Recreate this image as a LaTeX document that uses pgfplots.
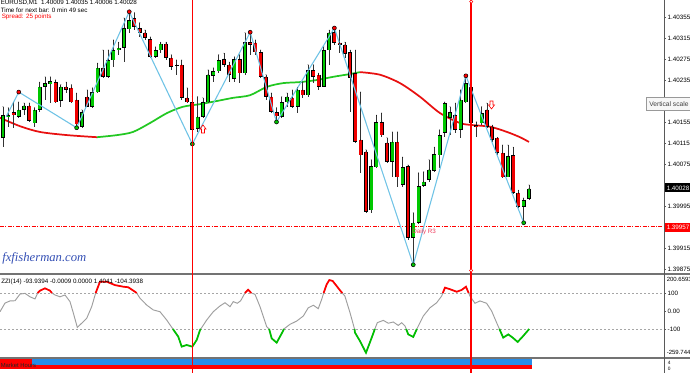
\documentclass[border=0pt]{standalone}
\usepackage{pgfplots}
\pgfplotsset{compat=1.18}
\usepackage{pgfplotstable}
\usepackage{fontspec}
\setmainfont{Liberation Sans}
\newfontfamily\serifit{Liberation Serif}
\newcommand\lab{\fontsize{4.7}{5.2}\selectfont}

\definecolor{candG}{HTML}{00C800}
\definecolor{candR}{HTML}{F00000}
\definecolor{zzblue}{HTML}{6EC3E6}
\definecolor{maG}{HTML}{22C822}
\definecolor{maR}{HTML}{E81010}
\definecolor{fxblue}{HTML}{3550B5}
\definecolor{r3pink}{HTML}{F04060}
\definecolor{vred}{HTML}{FF0000}

\pgfplotsset{nomark/.style={only marks, mark=*, mark options={draw=none, fill=none, scale=0.01}}}

% bullish candles: i open high low close
\pgfplotstableread{
i o h l c
0 1.40125 1.40184 1.40107 1.40168
1 1.40165 1.40182 1.40146 1.40168
3 1.40165 1.40193 1.40163 1.40178
4 1.40178 1.40191 1.40168 1.40186
6 1.40153 1.40182 1.40146 1.40178
7 1.40178 1.40231 1.40174 1.40222
8 1.40222 1.40241 1.40197 1.40229
9 1.40227 1.40241 1.40191 1.40233
11 1.40195 1.40226 1.40184 1.40222
15 1.40146 1.40178 1.40144 1.40174
17 1.40184 1.40220 1.40182 1.40212
18 1.40212 1.40267 1.40210 1.40258
20 1.40241 1.40292 1.40239 1.40273
21 1.40273 1.40311 1.40260 1.40292
22 1.40292 1.40307 1.40283 1.40296
23 1.40296 1.40353 1.40269 1.40334
24 1.40332 1.40363 1.40325 1.40349
29 1.40279 1.40298 1.40277 1.40292
30 1.40292 1.40307 1.40286 1.40304
37 1.40142 1.40203 1.40136 1.40165
38 1.40165 1.40201 1.40163 1.40193
39 1.40193 1.40254 1.40191 1.40245
40 1.40243 1.40258 1.40231 1.40252
41 1.40252 1.40283 1.40248 1.40273
44 1.40237 1.40279 1.40231 1.40275
46 1.40248 1.40325 1.40245 1.40307
53 1.40165 1.40203 1.40163 1.40193
54 1.40193 1.40210 1.40184 1.40203
56 1.40184 1.40220 1.40172 1.40216
58 1.40206 1.40264 1.40203 1.40254
61 1.40222 1.40298 1.40222 1.40292
62 1.40292 1.40330 1.40264 1.40325
70 1.39987 1.40083 1.39982 1.40071
71 1.40069 1.40168 1.40067 1.40155
74 1.40079 1.40136 1.40050 1.40117
76 1.40035 1.40088 1.40031 1.40069
78 1.39934 1.39982 1.39883 1.39963
79 1.39963 1.40058 1.39961 1.40033
80 1.40033 1.40060 1.40031 1.40041
81 1.40045 1.40083 1.40041 1.40064
82 1.40062 1.40107 1.40060 1.40094
83 1.40092 1.40140 1.40067 1.40130
84 1.40134 1.40193 1.40126 1.40191
85 1.40163 1.40184 1.40130 1.40174
87 1.40140 1.40216 1.40125 1.40197
88 1.40193 1.40241 1.40191 1.40229
91 1.40153 1.40184 1.40149 1.40172
96 1.40050 1.40111 1.40050 1.40090
99 1.39993 1.40010 1.39965 1.40006
100 1.40009 1.40035 1.40006 1.40028
}\bull

% bearish candles: i open high low close
\pgfplotstableread{
i o h l c
2 1.40174 1.40191 1.40144 1.40168
5 1.40186 1.40191 1.40155 1.40157
10 1.40231 1.40235 1.40191 1.40193
12 1.40222 1.40231 1.40210 1.40216
13 1.40220 1.40226 1.40191 1.40193
14 1.40197 1.40210 1.40144 1.40151
16 1.40203 1.40216 1.40184 1.40184
19 1.40258 1.40292 1.40239 1.40241
25 1.40353 1.40363 1.40330 1.40336
26 1.40334 1.40344 1.40317 1.40325
27 1.40325 1.40330 1.40311 1.40315
28 1.40313 1.40317 1.40277 1.40279
31 1.40304 1.40307 1.40273 1.40277
32 1.40277 1.40283 1.40254 1.40260
33 1.40264 1.40273 1.40245 1.40262
34 1.40264 1.40273 1.40197 1.40201
35 1.40201 1.40220 1.40191 1.40193
36 1.40193 1.40203 1.40117 1.40140
42 1.40275 1.40286 1.40260 1.40264
43 1.40264 1.40269 1.40231 1.40245
45 1.40275 1.40283 1.40229 1.40248
47 1.40307 1.40325 1.40283 1.40302
48 1.40306 1.40311 1.40283 1.40288
49 1.40288 1.40292 1.40239 1.40241
50 1.40241 1.40245 1.40197 1.40203
51 1.40203 1.40210 1.40172 1.40174
52 1.40174 1.40182 1.40159 1.40166
55 1.40201 1.40216 1.40182 1.40184
57 1.40216 1.40231 1.40201 1.40206
59 1.40254 1.40264 1.40229 1.40241
60 1.40245 1.40248 1.40216 1.40222
63 1.40326 1.40336 1.40302 1.40306
64 1.40306 1.40330 1.40286 1.40302
65 1.40302 1.40307 1.40277 1.40285
66 1.40288 1.40292 1.40174 1.40239
67 1.40248 1.40292 1.40115 1.40117
68 1.40121 1.40212 1.40058 1.40092
69 1.40098 1.40102 1.39982 1.39984
72 1.40155 1.40172 1.40126 1.40130
73 1.40115 1.40125 1.40077 1.40079
75 1.40117 1.40136 1.40031 1.40050
77 1.40071 1.40073 1.39930 1.39934
86 1.40168 1.40191 1.40134 1.40140
89 1.40222 1.40226 1.40126 1.40153
90 1.40149 1.40155 1.40126 1.40146
92 1.40178 1.40191 1.40144 1.40146
93 1.40146 1.40149 1.40117 1.40121
94 1.40125 1.40125 1.40092 1.40096
95 1.40096 1.40111 1.40048 1.40050
97 1.40092 1.40107 1.40018 1.40020
98 1.40020 1.40025 1.39991 1.39993
}\bear

% oscillator (ZZI 14)
\pgfplotstableread{
i v
-0.57 -4
0.38 44
1.33 56
2.28 57
3.23 94
4.18 98
5.13 79
6.08 67
6.6 100
7.03 113
7.98 126
8.94 113
9.3 100
9.89 89
10.84 79
11.79 89
12.74 52
13.37 -11
14.13 -91
14.96 -68
15.91 -41
16.86 24
17.62 100
18.44 163
19.71 163
21.29 144
22.87 135
23.82 132
25.10 107
25.4 100
26.05 71
27.32 33
28.57 6
29.85 -4
31.12 -50
32.3 -100
33.33 -143
33.97 -198
34.92 -189
35.99 -198
36.83 -161
37.45 -106
37.6 -100
38.73 -50
39.98 -4
41.25 28
42.21 46
43.16 24
43.78 52
44.54 43
45.19 57
46.0 100
46.6 118
47.2 100
47.91 93
48.86 24
50.13 -87
50.6 -100
51.08 -152
52.03 -176
53.17 -115
53.4 -100
54.56 -74
55.83 -56
57.09 -28
58.04 18
59.0 32
59.94 13
60.59 65
60.97 100
61.03 106
61.54 148
62.04 172
62.67 167
63.43 139
64.07 115
64.5 100
65.0 83
65.97 -9
66.83 -100
66.92 -120
67.87 -167
69.01 -232
70.1 -148
70.7 -100
71.16 -65
72.3 -52
73.26 -68
74.2 -61
75.15 -80
75.8 -65
76.43 -83
76.65 -100
77.05 -130
78.0 -144
78.65 -102
78.68 -100
79.9 -28
81.18 18
82.45 46
83.4 83
83.62 100
84.03 130
84.98 121
86.26 107
87.2 117
88.02 135
88.53 100
88.78 83
89.73 43
90.68 56
91.94 43
92.9 0
93.85 -65
94.38 -100
95.1 -148
96.07 -130
96.9 -148
97.85 -172
98.9 -139
100.04 -100
}\osc

\newcommand\wicks[1]{%
  \addplot[nomark, forget plot, error bars/.cd, y dir=minus, y explicit,
    error mark=none, error bar style={draw=black!80, line width=0.55pt, solid}]
    table[x=i, y=h, y error minus expr={\thisrow{h}-\thisrow{l}}] {#1};}
\newcommand\bodies[4]{%
  \addplot[nomark, forget plot, error bars/.cd, y dir=minus, y explicit,
    error mark=none, error bar style={draw=black, line width=3.0pt, solid}]
    table[x=i, y=#2, y error minus expr={max(\thisrow{#2}-\thisrow{#3},0.000012)}] {#1};
  \addplot[nomark, forget plot, error bars/.cd, y dir=minus, y explicit,
    error mark=none, error bar style={draw=#4, line width=2.0pt, solid}]
    table[x=i, y expr={\thisrow{#2}-0.000010}, y error minus expr={max(\thisrow{#2}-\thisrow{#3}-0.000020,0)}] {#1};}

\begin{document}
\begin{tikzpicture}
\clip (0,0) rectangle (517.5pt,-279.75pt);
\fill[white] (0,0) rectangle (517.5pt,-279.75pt);

% ---------------- main price panel ----------------
\begin{axis}[
  at={(0pt,-204pt)}, anchor=south west, scale only axis,
  width=498pt, height=204pt,
  xmin=-0.570, xmax=125.67, ymin=1.398692, ymax=1.403874,
  axis x line=none, axis y line*=right,
  axis line style={-, draw=black!65, line width=0.75pt},
  ytick={1.39875,1.39915,1.39995,1.40075,1.40115,1.40155,1.40235,1.40275,1.40315,1.40355},
  yticklabels={1.39875,1.39915,1.39995,1.40075,1.40115,1.40155,1.40235,1.40275,1.40315,1.40355},
  yticklabel style={font=\lab, inner sep=0pt, xshift=1pt},
  major tick length=1.6pt, tick align=outside, tick style={black!65, line width=0.5pt},
]
% Daily R3 level
\addplot[vred, line width=0.75pt, dash pattern=on 3pt off 1.1pt on 0.75pt off 1.1pt] coordinates {(-0.57,1.39955) (125.67,1.39955)};
% moving average
\addplot[maR, line width=1.3pt, smooth] coordinates {(-0.57,1.40163) (3.23,1.40147) (7.03,1.40136) (12.17,1.40130) (17.87,1.40126)};
\addplot[maG, line width=1.3pt, smooth] coordinates {(17.87,1.40126) (21.67,1.40130) (24.71,1.40136) (27.95,1.40153) (31.18,1.40172) (34.22,1.40184) (37.45,1.40189) (40.68,1.40195) (43.73,1.40201) (46.96,1.40206) (50.19,1.40222) (53.23,1.40229) (56.46,1.40231) (59.70,1.40235) (62.74,1.40241) (65.78,1.40246) (67.87,1.40250)};
\addplot[maR, line width=1.3pt, smooth] coordinates {(67.87,1.40250) (71.67,1.40245) (75.48,1.40229) (79.28,1.40203) (83.08,1.40172) (86.88,1.40153) (89.35,1.40149) (92.59,1.40146) (95.82,1.40136) (98.29,1.40126) (100,1.40117)};
% candles
\wicks{\bull}
\wicks{\bear}
\bodies{\bull}{c}{o}{candG}
\bodies{\bear}{o}{c}{candR}
% zigzag
\addplot[zzblue, line width=0.8pt] coordinates {(0.6,1.40165) (3,1.40212) (14,1.40144) (24,1.40365) (36,1.40113) (47,1.40326) (52,1.40155) (63,1.40334) (78,1.39883) (88,1.40243) (99,1.39963)};
\addplot[only marks, mark=*, mark size=1.5pt, mark options={draw=none, fill=red}] coordinates {(3,1.40212) (24,1.40365) (47,1.40326) (63,1.40334) (88,1.40243)};
\addplot[only marks, mark=*, mark size=1.5pt, mark options={draw=none, fill=green!75!black}] coordinates {(14,1.40144) (36,1.40113) (52,1.40155) (78,1.39883) (99,1.39963)};
\end{axis}

% ---------------- oscillator panel ----------------
\begin{axis}[
  at={(0pt,-268.3125pt)}, anchor=south west, scale only axis,
  width=498pt, height=62.14pt,
  xmin=-0.570, xmax=125.67, ymin=-259.744, ymax=200.659,
  axis x line=none, axis y line*=right,
  axis line style={-, draw=black!65, line width=0.75pt},
  ytick={-100,0,100}, yticklabels={-100,0.00,100},
  yticklabel style={font=\lab, inner sep=0pt, xshift=1pt},
  major tick length=1.6pt, tick align=outside, tick style={black!65, line width=0.5pt},
]
\addplot[black!35, line width=0.4pt, dash pattern=on 1.5pt off 1.5pt] coordinates {(-0.57,100) (125.67,100)};
\addplot[black!35, line width=0.4pt, dash pattern=on 1.5pt off 1.5pt] coordinates {(-0.57,-100) (125.67,-100)};
\addplot[black!38, line width=0.7pt] table[x=i, y=v] {\osc};
\addplot[red, line width=1.3pt, unbounded coords=jump, restrict y to domain=99.5:1000] table[x=i, y=v] {\osc};
\addplot[green!75!black, line width=1.3pt, unbounded coords=jump, restrict y to domain=-1000:-99.5] table[x=i, y=v] {\osc};
\end{axis}

% ---------------- market hours panel ----------------
\begin{axis}[
  at={(0pt,-279.75pt)}, anchor=south west, scale only axis,
  width=498pt, height=11.25pt,
  xmin=-0.570, xmax=125.67, ymin=0, ymax=15, hide axis,
]
\addplot[fill=red, draw=none] coordinates {(-0.57,3.5) (100.57,3.5) (100.57,7.6) (-0.57,7.6)} -- cycle;
\addplot[fill=red, draw=none] coordinates {(-0.57,7.6) (5.51,7.6) (5.51,13.5) (-0.57,13.5)} -- cycle;
\addplot[fill={rgb,255:red,40;green,140;blue,230}, draw=none] coordinates {(5.51,8) (100.57,8) (100.57,13.5) (5.51,13.5)} -- cycle;
\end{axis}

\begin{scope}[x=0.75pt,y=-0.75pt]
% panel separators and right border
\fill[black!55] (0,272.7) rectangle (690,275.4);
\fill[black!55] (0,356.7) rectangle (690,359.3);
\draw[black!65, line width=0.75pt] (664,0) -- (664,373);
% vertical period separators
\draw[vred, line width=0.85pt] (192.5,0) -- (192.5,373);
\draw[vred, line width=1.1pt] (471.2,0) -- (471.2,373);
\draw[vred, line width=0.4pt, fill=white] (471.2,1.6) circle[radius=1.2pt];
\draw[vred, line width=0.4pt, fill=white] (471.2,270.5) circle[radius=1.2pt];

% fractal arrows
\draw[red, line width=0.45pt] (201.5,133) -- (201.5,129) -- (200,129) -- (203,125) -- (206,129) -- (204.5,129) -- (204.5,133) -- cycle;
\draw[red, line width=0.45pt] (490,101) -- (490,105) -- (488.5,105) -- (491.5,109) -- (494.5,105) -- (493,105) -- (493,101) -- cycle;

% texts
\node[anchor=west, inner sep=0pt, font=\lab] at (0.5,2.8) {EURUSD,M1\ \ 1.40009 1.40035 1.40006 1.40028};
\node[anchor=west, inner sep=0pt, font=\lab] at (0.5,9.8) {Time for next bar: 0 min 49 sec};
\node[anchor=west, inner sep=0pt, font=\lab, text=red] at (1.5,16.6) {Spread: 25 points};
\node[anchor=west, inner sep=0pt, font=\serifit\itshape\fontsize{9.5}{10}\selectfont, text=fxblue] at (2,258) {fxfisherman.com};
\node[anchor=west, inner sep=0pt, font=\lab, text=r3pink] at (412,232) {Daily R3};
\node[anchor=west, inner sep=0pt, font=\lab] at (1,281.5) {ZZI(14) -93.9394 -0.0009 0.0000 1.4041 -104.3938};

% price boxes
\fill[black] (665,183.5) rectangle (690,192.5);
\node[anchor=west, inner sep=0pt, font=\lab, text=white] at (666.5,188) {1.40028};
\fill[red] (665,223) rectangle (690,232);
\node[anchor=west, inner sep=0pt, font=\lab, text=white] at (666.5,227.5) {1.39957};
% tooltip
\draw[fill=black!3, draw=black!40, line width=0.45pt] (646,97.5) rectangle (700,110.5);
\node[anchor=west, inner sep=0pt, font=\fontsize{5}{6}\selectfont, text=black!75] at (649,104) {Vertical scale};

% oscillator extremes
\node[anchor=west, inner sep=0pt, font=\fontsize{4.5}{5}\selectfont] at (666.5,279.5) {200.6593};
\node[anchor=west, inner sep=0pt, font=\fontsize{4.5}{5}\selectfont] at (666.5,352) {-259.744};
\node[anchor=west, inner sep=0pt, font=\fontsize{3.6}{4}\selectfont] at (667.5,362.5) {4};
\node[anchor=west, inner sep=0pt, font=\fontsize{3.6}{4}\selectfont] at (667.5,368.5) {0};
\node[anchor=west, inner sep=0pt, font=\fontsize{4.4}{5}\selectfont, text=black!85] at (0.5,365) {Market Hours};
\end{scope}
\end{tikzpicture}
\end{document}
